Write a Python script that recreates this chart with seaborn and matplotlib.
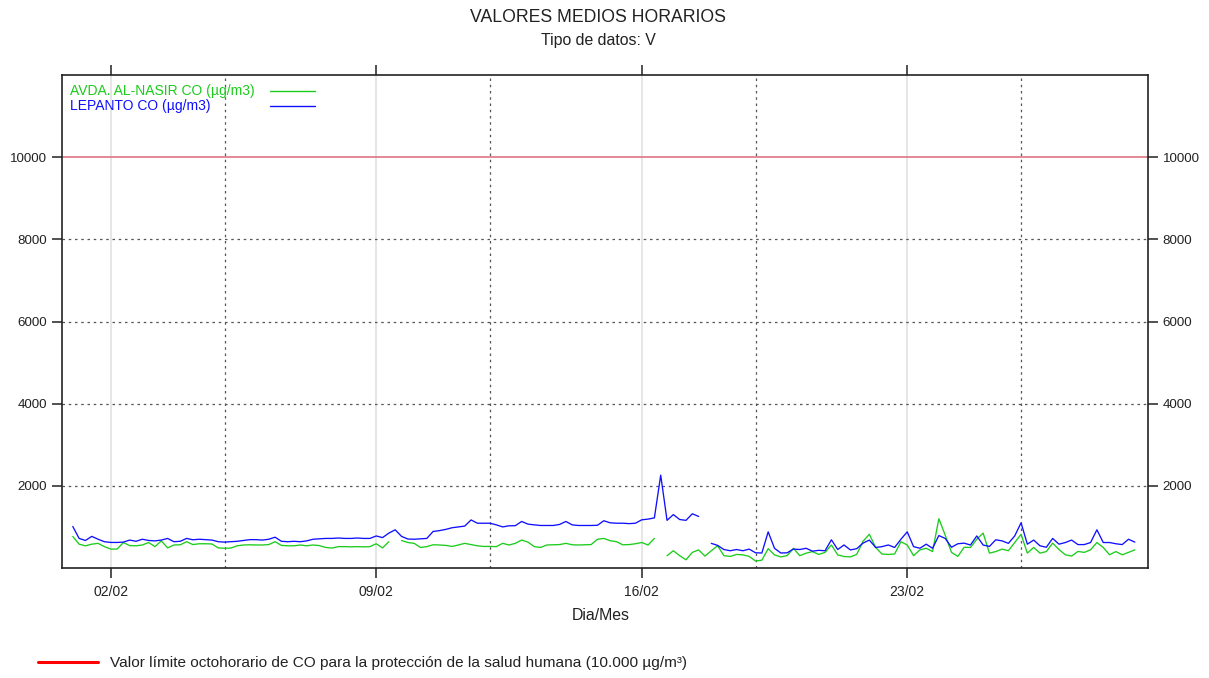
import numpy as np
import pandas as pd
import matplotlib
matplotlib.use("Agg")
import matplotlib.pyplot as plt
import matplotlib.dates as mdates
from matplotlib.lines import Line2D
import seaborn as sns

start = "2024-02-01 00:00"
series_names = ["AVDA. AL-NASIR CO (µg/m3)", "LEPANTO CO (µg/m3)"]
nan = np.nan

alnasir = [768, 580, 540, 580, 600, 520,
           460, 460, 620, 545, 540, 560,
           620, 520, 660, 490, 560, 565,
           640, 570, 590, 590, 585, 490,
           480, 485, 540, 560, 565, 560,
           560, 570, 640, 550, 540, 540,
           560, 540, 560, 545, 500, 485,
           520, 520, 515, 520, 515, 520,
           590, 490, 640, nan, 670, 620,
           600, 500, 520, 565, 560, 550,
           525, 560, 600, 570, 540, 525,
           525, 520, 600, 560, 600, 680,
           630, 520, 500, 560, 565, 570,
           600, 565, 560, 565, 570, 700,
           720, 665, 640, 565, 570, 590,
           620, 560, 720, nan, 300, 420,
           300, 200, 380, 440, 290, 420,
           540, 300, 282, 330, 320, 282,
           170, 190, 470, 320, 270, 300,
           480, 300, 360, 400, 330, 380,
           560, 320, 280, 270, 330, 650,
           820, 500, 340, 330, 340, 640,
           560, 300, 440, 480, 400, 1200,
           800, 380, 282, 505, 500, 700,
           850, 362, 400, 460, 420, 620,
           820, 362, 500, 362, 400, 605,
           450, 322, 290, 403, 380, 443,
           620, 500, 322, 400, 322, 380,
           443]

lepanto = [1010, 720, 670, 770, 700, 640,
           622, 622, 630, 680, 650, 700,
           670, 660, 680, 720, 640, 650,
           720, 687, 700, 690, 680, 640,
           630, 640, 650, 670, 690, 690,
           680, 700, 750, 650, 640, 650,
           640, 660, 700, 710, 720, 720,
           730, 720, 720, 730, 720, 720,
           780, 740, 850, 930, 770, 705,
           700, 710, 720, 890, 910, 940,
           980, 1000, 1020, 1170, 1090, 1090,
           1090, 1050, 1000, 1027, 1030, 1133,
           1068, 1050, 1035, 1035, 1035, 1060,
           1133, 1050, 1035, 1035, 1035, 1040,
           1150, 1100, 1090, 1090, 1080, 1090,
           1173, 1190, 1220, 2260, 1160, 1300,
           1180, 1160, 1320, 1255, nan, 600,
           550, 450, 420, 450, 420, 460,
           370, 365, 880, 480, 365, 370,
           460, 450, 480, 410, 430, 420,
           687, 450, 560, 440, 470, 605,
           680, 500, 520, 560, 500, 700,
           880, 520, 480, 580, 480, 790,
           720, 505, 590, 605, 560, 780,
           560, 525, 687, 660, 600, 780,
           1100, 580, 680, 540, 505, 720,
           580, 620, 680, 570, 570, 620,
           930, 620, 620, 590, 570, 700,
           630]

tick_dates = ["2024-02-02", "2024-02-09", "2024-02-16", "2024-02-23"]
tick_labels = ["02/02", "09/02", "16/02", "23/02"]
week_dates = ["2024-02-05", "2024-02-12", "2024-02-19", "2024-02-26"]
y_ticks = [2000, 4000, 6000, 8000, 10000]
y_grid = [2000, 4000, 6000, 8000]
limit_value = 10000
x_range = ["2024-01-31 17:10", "2024-02-29 08:20"]
y_range = [0, 12000]

# ---------------- build long table ----------------
times = pd.date_range(start, periods=len(alnasir), freq="4h")
frames = []
for name, vals in zip(series_names, [alnasir, lepanto]):
    v = np.array(vals, dtype=float)
    seg = np.cumsum(np.isnan(v))
    d = pd.DataFrame({"time": times, "value": v, "series": name,
                      "segment": [f"{name}-{s}" for s in seg]})
    frames.append(d.dropna())
df = pd.concat(frames, ignore_index=True)

# ---------------- style ----------------
sns.set_theme(style="white")
plt.rcParams["font.family"] = ["Liberation Sans", "DejaVu Sans"]
colors = {series_names[0]: "#1ccc1c", series_names[1]: "#1010ff"}
dark = "#222222"

W, H = 1209, 678
fig = plt.figure(figsize=(W / 100, H / 100), dpi=100)
ax = fig.add_axes([62 / W, 1 - 568 / H, (1148 - 62) / W, (568 - 75) / H])

# grid
for d in tick_dates:
    ax.axvline(pd.Timestamp(d), color="#e4e4e4", lw=1.3, zorder=1)
for d in week_dates:
    ax.axvline(pd.Timestamp(d), color="#555555", lw=0.9, ls=(0, (2, 3)), zorder=1)
for y in y_grid:
    ax.axhline(y, color="#555555", lw=0.9, ls=(0, (2, 3)), zorder=1)
ax.axhline(limit_value, color="#e0808a", lw=1.3, zorder=2)

# series
sns.lineplot(data=df, x="time", y="value", hue="series", units="segment",
             estimator=None, palette=colors, lw=0.95, legend=False, ax=ax,
             zorder=3)

ax.set_xlim(pd.Timestamp(x_range[0]), pd.Timestamp(x_range[1]))
ax.set_ylim(*y_range)
ax.set_xticks([pd.Timestamp(d) for d in tick_dates])
ax.set_xticklabels(tick_labels)
ax.set_yticks(y_ticks)
ax.set_yticklabels([str(v) for v in y_ticks])
ax.set_xlabel("")
ax.set_ylabel("")

ax.tick_params(axis="x", bottom=True, top=True, labeltop=False, direction="out",
               length=7, width=1.1, color=dark, labelsize=10, labelcolor=dark, pad=5)
ax.tick_params(axis="y", left=True, right=True, labelleft=True, labelright=True,
               direction="out", length=7, width=1.1, color=dark, labelsize=9.6,
               labelcolor=dark)
for t in ax.yaxis.get_major_ticks():
    t.set_pad(3.6)
ax.yaxis.set_tick_params(which="major", pad=3.6)
for s in ax.spines.values():
    s.set_visible(True)
    s.set_color(dark)
    s.set_linewidth(1.2)

# in-plot legend (text coloured like its line, line sample on the right)
for i, name in enumerate(series_names):
    yy = 0.9675 - i * 0.0305
    ax.text(0.0074, yy, name, transform=ax.transAxes, color=colors[name],
            fontsize=10, ha="left", va="center")
    ax.add_line(Line2D([0.1915, 0.233], [yy, yy], transform=ax.transAxes,
                       color=colors[name], lw=1.0))

# titles
fig.text(0.4946, 1 - 17 / H, "VALORES MEDIOS HORARIOS", ha="center", va="center",
         fontsize=12.7, color=dark)
fig.text(0.4946, 1 - 40 / H, "Tipo de datos: V", ha="center", va="center",
         fontsize=11.4, color=dark)
fig.text(601 / W, 1 - 616 / H, "Dia/Mes", ha="center", va="center",
         fontsize=11.4, color=dark)

# bottom legend for limit value
fig.add_artist(Line2D([38 / W, 98 / W], [1 - 662 / H, 1 - 662 / H],
                      transform=fig.transFigure, color="#ff0000", lw=2.2))
fig.text(110 / W, 1 - 663 / H,
         "Valor límite octohorario de CO para la protección de la salud humana (10.000 µg/m³)",
         ha="left", va="center", fontsize=11.1, color=dark)

fig.savefig("out.png", dpi=100)
